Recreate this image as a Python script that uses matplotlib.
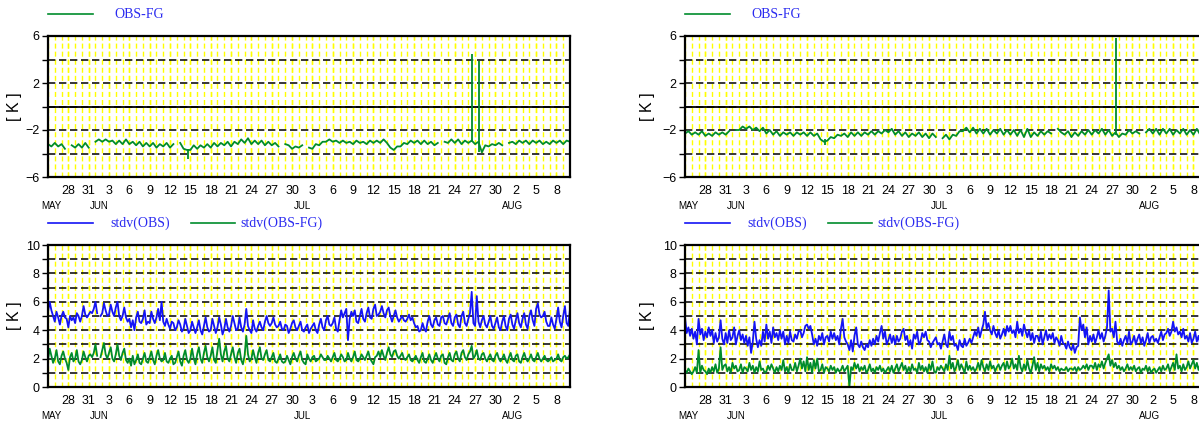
import numpy as np
import pandas as pd
import matplotlib
matplotlib.use('Agg')
import matplotlib.pyplot as plt
import matplotlib.dates as mdates

nan = np.nan
start = '2019-05-25'
end = '2019-08-10'

# OBS-FG, left station, two values per day (00, 12 UTC)
obsfg_left = [
    -3.2, -3.4, -3.1, -3.4, -3.2, -3.6, nan, -3.3, -3.5, -3.2, -3.5, -3.1, -3.5, nan,
    -3.0, -2.8, -3.0, -2.8, -3.0, -2.9, -3.2, -2.9, -3.2, -2.8, -3.2, -3.0, -3.3, -3.0,
    -3.4, -3.1, -3.4, -3.1, -3.5, -3.2, -3.4, -3.1, -3.5, -3.2, nan, -3.1, -3.6, -3.7,
    -3.7, -3.3, -3.6, -3.3, -3.5, -3.2, -3.5, -3.1, -3.4, -3.1, -3.3, -3.0, -3.4, -3.0,
    -3.2, -2.8, -3.1, -2.7, -3.2, -2.9, -3.2, -2.9, -3.3, -3.0, -3.3, -3.1, -3.4, nan,
    -3.2, -3.3, -3.6, -3.4,
    -3.5, -3.3, nan, -3.5, -3.6, -3.2, -3.3, -3.0, -3.0, -2.8, -3.0, -2.9, -3.1, -2.9,
    -3.1, -3.0, -3.2, -2.9, -3.1, -3.0, -3.2, -2.9, -3.1, -2.9, -3.1, -2.8, -3.1, -3.5,
    -3.7, -3.4, -3.4, -3.1, -3.2, -2.9, -3.1, -2.9, -3.2, -2.9, -3.2, -3.0, -3.3, -3.1,
    nan, -3.0, -3.1, -2.8, -3.1, -2.8, -3.2, -2.9, -3.1, -2.9, -3.2, -3.0, -3.9, -3.3,
    -3.4, -3.2, -3.3, -3.1, -3.3, nan,
    -3.1, -3.0, -3.2, -2.9, -3.1, -2.9, -3.2, -2.9, -3.1, -2.9, -3.2, -3.0, -3.2, -2.9,
    -3.1, -2.9, -3.2, -2.9, -3.0,
]
spike_left_t = ['2019-06-14 15:00', '2019-07-26 13:00', '2019-07-27 14:00']
spike_left_lo = [-4.5, -3.0, -3.9]
spike_left_hi = [-3.6, 4.5, 3.9]

# OBS-FG, right station
obsfg_right = [
    -2.3, -2.1, -2.4, -2.2, -2.4, -2.1, -2.5, -2.3, -2.5, -2.2, -2.4, -2.2, -2.4, -2.1,
    nan, -2.0, -2.0, -1.7, -1.9, -1.7, -2.0, -1.8, -2.1, -1.8, -2.3, -2.0, -2.4, -2.1,
    -2.5, -2.2, -2.4, -2.2, -2.5, -2.2, -2.4, -2.2, -2.5, -2.2, -2.5, -2.3, -2.8, -3.0,
    -2.9, -2.6, -2.7, -2.4, -2.5, -2.3, -2.6, -2.2, -2.5, -2.2, -2.5, -2.2, -2.4, -2.1,
    -2.4, -2.1, -2.3, -2.0, -2.2, -1.9, -2.4, -2.1, -2.5, -2.2, -2.6, -2.3, -2.5, -2.2,
    -2.6, -2.3, -2.7, -2.3,
    -2.6, nan, -2.7, -2.4, -2.8, -2.4, -2.5, -2.1, -2.1, -1.8, -2.2, -1.8, -2.3, -1.9,
    -2.3, -1.9, -2.4, -2.0, -2.3, -1.9, -2.4, -2.0, -2.4, -2.0, -2.5, -2.0, -2.6, -1.9,
    -2.6, -2.2, -2.5, -2.1, -2.4, -2.1, -2.3, nan, -1.9, -2.2, -2.4, -2.1, -2.6, -2.2,
    -2.5, -2.1, -2.4, -2.0, -2.4, -2.0, -2.3, -1.9, -2.4, -2.0, -2.5, -2.2, -2.6, -2.3,
    -2.4, -2.0, -2.3, -2.1, -2.3, nan,
    -2.2, -1.9, -2.3, -1.9, -2.4, -1.9, -2.3, -1.9, -2.4, -2.0, -2.3, -1.9, -2.4, -2.0,
    -2.4, -1.9, -2.4, -2.0, -2.1,
]
spike_right_t = ['2019-06-14 15:00', '2019-07-27 14:00']
spike_right_lo = [-3.3, -2.4]
spike_right_hi = [-2.8, 5.8]

# stdv, left station, four values per day (00, 06, 12, 18 UTC)
stdv_obs_left = [
    5.3, 6.0, 5.4, 5.0,  4.6, 5.3, 4.9, 4.4,  5.0, 5.3, 4.9, 4.8,  4.2, 5.0, 4.7, 4.9,
    4.5, 5.2, 5.0, 4.6,  5.0, 5.7, 5.1, 4.9,  5.1, 5.3, 5.2, 5.5,
    6.0, 5.2, nan, 5.0,  5.2, 5.9, 5.4, 5.0,  5.1, 5.8, 5.3, 5.0,  5.6, 6.0, 5.0, 4.7,
    5.0, 5.6, 4.9, 4.6,  4.8, 4.2, 4.7, 4.0,  4.9, 5.3, 4.6, 4.5,  4.8, 5.4, 4.4, 4.6,
    4.5, 5.3, 4.8, 4.5,  4.9, 5.5, 4.7, 6.0,  4.6, 4.3, 4.8, 4.4,  4.1, 4.6, 4.5, 4.0,
    4.2, 4.7, 4.4, 3.9,  4.1, 4.8, 4.3, 3.8,  4.0, 4.6, 4.2, 3.8,  4.2, 4.7, 4.0, 3.7,
    4.3, 4.9, 4.2, 3.9,  4.0, 4.8, 4.3, 3.8,  4.2, 4.9, 4.4, 3.7,  4.1, 4.8, 4.2, 3.9,
    4.3, 5.0, 4.5, 4.0,  4.1, 4.9, 4.2, 3.9,  4.4, 5.5, 4.3, 4.0,  3.8, 4.7, 4.1, 3.9,
    4.3, 4.6, 4.2, 4.0,  4.6, 5.0, 4.5, 4.3,  4.5, 4.9, 4.4, 4.2,  4.3, 4.6, 4.1, 4.0,
    4.4, 4.3, 3.8, 4.1,  4.5, 4.7, 4.2, 4.0,
    4.3, 4.6, 4.0, 3.9,  4.2, 4.4, 3.8, 4.1,  4.3, 4.5, 4.0, 3.8,  4.4, 4.8, 4.2, 4.0,
    4.7, 5.0, 4.4, 4.3,  4.5, 4.9, 4.1, 3.9,  4.7, 5.4, 4.9, 5.2,  5.5, 3.3, 4.8, 5.3,
    5.0, 5.4, 4.6, 4.5,  5.0, 5.5, 4.8, 4.6,  5.2, 5.6, 4.9, 4.8,  5.5, 5.8, 5.0, 5.1,
    5.3, 5.7, 5.2, 4.9,  5.4, 5.6, 5.0, 4.6,  5.0, 5.4, 4.9, 4.6,  4.8, 5.0, 4.7, 4.6,
    4.8, 5.1, 4.7, 4.9,  4.5, 4.2, 4.3, 3.9,  4.0, 4.5, 4.1, 3.9,  4.6, 5.0, 4.4, 4.2,
    4.7, 4.9, 4.4, 4.3,  4.9, 5.0, 4.5, 4.4,  4.8, 5.2, 4.5, 4.3,  4.9, 5.1, 4.4, 4.2,
    5.0, 5.3, 4.5, 4.3,  4.8, 5.2, 6.7, 4.5,  4.3, 6.4, 4.6, 4.2,  4.7, 5.0, 4.4, 4.2,
    4.6, 5.0, 4.3, 4.1,  4.5, 4.9, 4.2, 4.0,  4.6, 5.0, 4.3, 4.0,
    4.8, 5.1, 4.4, 4.1,  4.7, 5.2, 4.5, 4.2,  4.8, 5.2, 4.4, 4.1,  5.0, 5.4, 4.7, 4.3,
    5.5, 5.9, 5.1, 4.9,  5.0, 5.3, 4.6, 4.3,  4.3, 4.9, 4.4, 4.1,  4.8, 5.6, 4.6, 4.2,
    5.0, 5.7, 4.5, 4.3,  5.5,
]
stdv_ofg_left = [
    1.9, 2.7, 2.2, 1.7,  2.0, 2.6, 1.8, 1.6,  2.2, 2.5, 2.0, 1.7,  1.2, 2.1, 2.4, 1.8,
    2.0, 2.6, 1.8, 1.6,  1.9, 2.5, 2.1, 1.8,  2.2, 2.3, 2.1, 2.4,
    3.0, 2.2, nan, 2.1,  2.6, 3.1, 2.3, 2.0,  2.4, 2.8, 2.0, 1.8,  2.3, 3.0, 2.2, 1.9,
    2.4, 2.7, 1.9, 1.7,  2.0, 1.5, 2.2, 1.6,  1.9, 2.3, 1.7, 1.6,  2.0, 2.4, 1.8, 1.7,
    2.1, 2.5, 1.9, 1.6,  2.2, 2.6, 2.0, 1.8,  1.9, 2.4, 1.8, 1.7,  2.0, 2.2, 1.6, 1.7,
    2.1, 2.5, 1.8, 1.5,  2.2, 2.6, 1.9, 1.7,  2.0, 2.7, 2.0, 1.6,  2.3, 2.8, 2.0, 1.7,
    2.4, 2.9, 2.1, 1.8,  2.2, 2.8, 1.9, 1.7,  2.6, 3.4, 2.3, 1.8,  2.5, 2.9, 2.0, 1.8,
    2.3, 2.8, 2.1, 1.7,  2.4, 2.7, 1.9, 1.6,  2.2, 3.6, 2.3, 1.8,  2.0, 2.6, 2.1, 1.7,
    2.4, 2.8, 2.0, 1.9,  2.3, 2.6, 1.9, 1.8,  2.1, 2.4, 1.8, 1.7,  2.0, 2.3, 1.8, 1.7,
    1.8, 2.2, 1.9, 1.6,  2.1, 2.4, 2.0, 1.8,
    2.2, 2.5, 1.9, 1.7,  1.6, 2.3, 2.0, 1.8,  2.1, 2.2, 1.8, 1.9,  2.0, 2.3, 2.1, 1.9,
    1.9, 2.2, 2.0, 1.8,  2.1, 2.4, 1.9, 1.8,  2.0, 2.3, 2.1, 1.8,  1.9, 2.4, 2.0, 1.8,
    2.1, 2.5, 1.9, 1.8,  2.0, 2.3, 2.1, 1.9,  2.2, 2.5, 2.0, 1.8,  1.6, 2.1, 2.2, 2.5,
    2.1, 2.6, 2.2, 1.9,  2.4, 2.8, 2.3, 2.1,  2.5, 2.6, 2.2, 2.0,  2.2, 2.4, 2.0, 1.9,
    2.1, 2.3, 1.9, 1.8,  2.0, 2.2, 1.9, 1.7,  2.1, 2.4, 1.8, 1.7,  2.0, 2.3, 1.9, 1.7,
    2.1, 2.4, 2.0, 1.8,  2.2, 2.3, 1.7, 1.6,  2.1, 2.4, 1.9, 1.8,  2.3, 2.5, 2.0, 1.8,
    2.4, 2.6, 2.1, 1.9,  2.3, 2.5, 2.9, 2.0,  2.2, 2.6, 2.0, 1.9,  2.3, 2.4, 2.0, 1.8,
    2.1, 2.3, 1.9, 1.8,  2.2, 2.4, 2.0, 1.8,  2.0, 2.3, 1.9, 1.7,
    2.1, 2.4, 1.9, 1.8,  2.2, 2.3, 1.8, 1.7,  2.1, 2.4, 2.0, 1.8,  2.0, 2.3, 1.9, 1.8,
    2.1, 2.4, 2.0, 1.8,  2.0, 2.2, 1.9, 1.8,  1.9, 2.1, 1.8, 1.9,  2.0, 2.3, 1.9, 1.8,
    2.1, 2.2, 2.0, 2.1,  2.3,
]

# stdv, right station
stdv_obs_right = [
    4.9, 3.8, 4.2, 3.6,  4.1, 3.4, 3.9, 3.0,  4.8, 3.7, 4.1, 3.3,  3.9, 3.5, 4.2, 3.6,
    4.0, 3.1, 3.8, 3.2,  3.5, 4.7, 3.4, 3.0,  3.8, 3.1, 4.0, 3.3,
    3.5, 4.2, 3.0, 3.6,  4.0, 3.3, 3.7, 3.1,  3.6, 2.9, 3.5, 2.4,  3.2, 4.6, 3.4, 2.8,
    3.3, 2.9, 3.9, 3.2,  4.4, 3.4, 3.9, 3.1,  4.2, 3.5, 3.8, 3.3,  4.0, 3.4, 3.9, 3.0,
    3.6, 3.1, 3.9, 3.3,  3.2, 3.7, 3.4, 3.9,  4.0, 3.5, 3.8, 4.3,  4.4, 4.1, 4.3, 3.7,
    3.0, 3.4, 2.9, 3.6,  3.3, 3.8, 3.0, 3.5,  3.6, 3.2, 3.9, 3.4,  3.8, 3.3, 3.6, 3.0,
    4.1, 4.8, 3.5, 3.2,  3.0, 2.6, 3.3, 2.5,  3.6, 4.2, 3.0, 2.8,  3.2, 2.8, 2.6, 3.0,
    2.8, 3.3, 2.9, 3.4,  3.0, 3.6, 3.2, 3.8,  4.3, 3.4, 3.9, 3.0,  3.3, 3.7, 3.1, 3.6,
    3.0, 3.6, 3.2, 3.4,  3.9, 4.1, 3.3, 3.6,  2.9, 3.3, 2.7, 3.7,  3.4, 3.9, 3.0, 3.2,
    3.8, 3.5, 3.9, 3.3,  3.2, 2.8, 3.1, 3.3,
    3.5, 3.0, 3.1, 2.7,  3.2, 3.7, 3.0, 2.8,  3.9, 3.3, 3.6, 2.9,  3.0, 2.6, 3.3, 2.9,
    2.8, 3.4, 2.9, 3.1,  3.4, 3.1, 3.5, 3.9,  3.6, 4.2, 3.5, 4.0,  4.4, 5.3, 4.1, 4.5,
    4.0, 3.7, 4.3, 3.8,  3.5, 4.0, 3.4, 3.7,  4.1, 3.6, 4.3, 3.9,  4.3, 3.8, 4.0, 3.5,
    4.6, 3.8, 4.1, 3.6,  4.4, 3.9, 3.5, 4.0,  3.3, 3.8, 3.1, 3.6,  3.6, 3.2, 3.9, 3.0,
    3.5, 4.0, 3.3, 3.7,  3.4, 3.8, 3.1, 3.5,  3.3, 2.9, 3.6, 3.1,  3.0, 2.7, 3.2, 2.8,
    2.6, 3.0, 2.4, 2.8,  2.9, 4.9, 4.0, 4.4,  3.5, 4.2, 3.0, 3.6,  3.2, 3.7, 3.1, 3.5,
    4.0, 3.4, 3.8, 3.2,  3.6, 4.2, 6.8, 3.9,  4.1, 3.5, 4.6, 3.2,  3.0, 3.4, 2.9, 3.3,
    3.6, 3.1, 3.9, 3.0,  3.2, 3.6, 3.0, 3.4,  3.7, 3.1, 3.5, 2.9,
    3.3, 3.8, 3.1, 3.5,  3.6, 3.2, 3.4, 3.1,  3.5, 3.9, 3.3, 3.7,  3.8, 4.1, 3.6, 3.9,
    4.6, 3.9, 4.2, 3.7,  3.9, 3.5, 4.1, 3.4,  3.6, 3.2, 3.8, 3.1,  3.4, 3.9, 3.2, 3.6,
    3.0, 3.5, 3.3, 3.1,  3.4,
]
stdv_ofg_right = [
    1.2, 1.0, 1.3, 1.1,  0.9, 1.1, 1.4, 1.0,  2.6, 1.0, 1.5, 1.2,  1.1, 0.9, 1.3, 1.0,
    1.4, 1.1, 1.6, 1.0,  1.3, 2.8, 1.2, 1.5,  1.6, 1.1, 1.4, 1.0,
    1.7, 1.3, 1.5, 1.1,  1.2, 1.6, 1.0, 1.4,  1.3, 1.1, 1.7, 1.2,  1.5, 1.0, 1.4, 1.1,
    1.8, 1.2, 1.3, 1.0,  1.1, 1.5, 1.2, 1.6,  1.3, 1.0, 1.4, 1.1,  1.5, 1.2, 1.9, 1.1,
    1.4, 1.0, 1.6, 1.2,  1.2, 1.7, 1.1, 1.5,  2.0, 1.3, 1.8, 1.1,  2.1, 1.2, 1.7, 1.0,
    1.9, 1.3, 2.0, 1.1,  1.2, 1.6, 1.0, 1.4,  1.3, 1.1, 1.5, 1.2,  1.4, 1.0, 1.3, 1.1,
    1.2, 1.5, 1.1, 1.3,  1.5, 0.0, 1.4, 1.2,  1.7, 1.3, 1.6, 1.1,  1.4, 1.2, 1.5, 1.0,
    1.2, 1.6, 1.1, 1.3,  1.0, 1.4, 1.2, 1.5,  1.1, 1.3, 1.0, 1.2,  1.4, 1.1, 1.5, 1.0,
    1.3, 1.6, 1.1, 1.4,  1.7, 1.2, 1.5, 1.0,  1.4, 1.1, 1.6, 1.2,  1.3, 1.0, 1.7, 1.2,
    1.5, 1.1, 1.4, 1.0,  1.6, 1.2, 1.8, 1.1,
    1.0, 1.4, 1.2, 1.5,  1.3, 1.1, 1.6, 1.2,  2.2, 1.3, 1.7, 1.1,  1.4, 1.9, 1.2, 1.6,
    1.3, 1.0, 1.8, 1.2,  1.5, 1.2, 1.4, 1.1,  1.3, 1.7, 1.2, 1.9,  1.4, 1.1, 1.6, 1.2,
    1.8, 1.3, 1.5, 1.1,  1.4, 1.6, 1.2, 1.5,  1.7, 1.2, 1.8, 1.3,  1.5, 2.0, 1.3, 1.6,
    1.2, 2.2, 1.4, 1.1,  1.6, 1.2, 1.9, 1.3,  1.0, 1.5, 2.1, 1.2,  1.7, 1.1, 1.6, 1.3,
    1.5, 1.2, 1.4, 1.1,  1.6, 1.3, 1.5, 1.2,  1.4, 1.1, 1.3, 1.2,  1.2, 1.4, 1.1, 1.3,
    1.3, 1.2, 1.4, 1.1,  1.4, 1.2, 1.3, 1.5,  1.3, 1.6, 1.2, 1.5,  1.5, 1.3, 1.7, 1.2,
    1.6, 1.4, 1.8, 1.3,  1.7, 2.0, 2.3, 1.5,  1.9, 1.4, 1.7, 1.3,  1.5, 1.2, 1.4, 1.1,
    1.3, 1.6, 1.2, 1.4,  1.2, 1.5, 1.1, 1.3,  1.4, 1.0, 1.3, 1.2,
    1.5, 1.1, 1.4, 1.0,  1.2, 1.3, 1.0, 1.2,  1.4, 1.1, 1.5, 1.2,  1.3, 1.6, 1.1, 1.4,
    1.7, 1.2, 2.3, 1.3,  1.5, 1.1, 1.6, 1.2,  1.4, 1.8, 1.3, 1.6,  1.9, 1.3, 1.7, 1.2,
    1.6, 1.4, 1.8, 1.3,  1.5,
]

months = ['MAY', 'JUN', 'JUL', 'AUG']
month_pos = ['2019-05-25 12:00', '2019-06-01 12:00', '2019-07-01 12:00', '2019-08-01 12:00']

GREEN = '#008c2c'
BLUE = '#1414f5'
LEG_BLUE = '#2a2af0'

plt.rcParams['font.family'] = ['Liberation Sans', 'DejaVu Sans']

day_ticks = pd.date_range('2019-05-28', end, freq='3D')
day_labels = [str(d.day) for d in day_ticks]


def times(vals, step):
    return pd.date_range(start, periods=len(vals), freq=step)


def setup_axes(ax, major, minor, zero_line=False):
    ax.set_xlim(pd.Timestamp(start), pd.Timestamp(end))
    ax.set_ylim(major[0], major[-1])
    ax.set_yticks(major)
    ax.set_yticks(minor, minor=True)
    ax.set_xticks(day_ticks)
    ax.set_xticklabels(day_labels)
    ax.xaxis.set_minor_locator(mdates.DayLocator())
    ax.xaxis.remove_overlapping_locs = False
    ax.grid(which='both', axis='x', color='#ffff00', lw=1.0, ls=(0, (3.6, 2.2)),
            snap=True)
    ax.grid(which='both', axis='y', color='black', lw=1.1, ls=(0, (4.8, 2.4)))
    if zero_line:
        ax.axhline(0, color='black', lw=1.3, zorder=1.5)
    ax.tick_params(axis='x', which='both', length=0, pad=6, labelsize=9)
    ax.tick_params(axis='y', which='both', length=4, width=1, direction='out',
                   pad=2, labelsize=9)
    for s in ax.spines.values():
        s.set_linewidth(1.6)
        s.set_zorder(5)
    for m, p in zip(months, month_pos):
        ax.annotate(m, (mdates.date2num(pd.Timestamp(p)), 0),
                    xycoords=ax.get_xaxis_transform(),
                    xytext=(0, -21), textcoords='offset points',
                    ha='center', va='center', fontsize=7)
    ax.set_ylabel('[ K ]', fontsize=11.5)


def legend_entry(ax, x0, x1, xt, color, text):
    ax.plot([x0, x1], [1.156, 1.156], transform=ax.transAxes, color=color,
            lw=1.2, clip_on=False)
    ax.text(xt, 1.156, text, transform=ax.transAxes, color=LEG_BLUE,
            family='Liberation Serif', fontsize=10, va='center', ha='left')


fig = plt.figure(figsize=(11.99, 4.26), dpi=100)
W = 522 / 1199
ax_tl = fig.add_axes([48 / 1199, 1 - 177 / 426, W, 141 / 426])
ax_bl = fig.add_axes([48 / 1199, 1 - 387 / 426, W, 142 / 426])
ax_tr = fig.add_axes([685 / 1199, 1 - 177 / 426, W, 141 / 426])
ax_br = fig.add_axes([685 / 1199, 1 - 387 / 426, W, 142 / 426])

for ax, vals, st, lo, hi, lx in [
        (ax_tl, obsfg_left, spike_left_t, spike_left_lo, spike_left_hi, -0.05),
        (ax_tr, obsfg_right, spike_right_t, spike_right_lo, spike_right_hi, -0.057)]:
    setup_axes(ax, [-6, -2, 2, 6], [-4, 0, 4], zero_line=True)
    ax.plot(times(vals, '12h'), vals, color=GREEN, lw=1.3, zorder=3)
    ax.vlines(pd.to_datetime(st), lo, hi, color=GREEN, lw=1.3, zorder=3)
    legend_entry(ax, 0.0, 0.086, 0.128, GREEN, 'OBS-FG')
    ax.yaxis.set_label_coords(lx, 0.5)

for ax, obs, ofg, lx in [(ax_bl, stdv_obs_left, stdv_ofg_left, -0.05),
                         (ax_br, stdv_obs_right, stdv_ofg_right, -0.057)]:
    setup_axes(ax, [0, 2, 4, 6, 8, 10], [1, 3, 5, 7, 9])
    ax.plot(times(obs, '6h'), obs, color=BLUE, lw=1.3, zorder=3)
    ax.plot(times(ofg, '6h'), ofg, color=GREEN, lw=1.3, zorder=3)
    legend_entry(ax, 0.0, 0.086, 0.119, BLUE, 'stdv(OBS)')
    legend_entry(ax, 0.274, 0.358, 0.368, GREEN, 'stdv(OBS-FG)')
    ax.yaxis.set_label_coords(lx, 0.5)

fig.savefig('out.png', dpi=100)
